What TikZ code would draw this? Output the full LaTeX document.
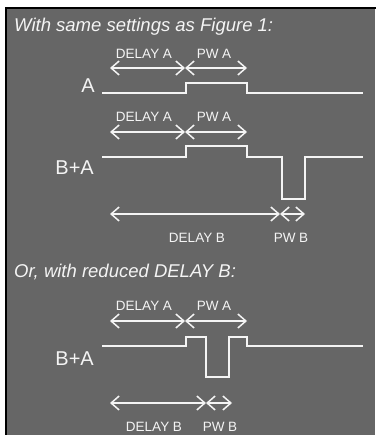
\documentclass[tikz,border=0pt]{standalone}
\usepackage{fontspec}
\setmainfont{Liberation Sans}
\usetikzlibrary{arrows.meta}
\definecolor{bg}{HTML}{666666}
\definecolor{fg}{HTML}{F4F4F4}
\begin{document}
\begin{tikzpicture}[x=1pt,y=-1pt,
  sig/.style={draw=fg, line width=2pt},
  dim/.style={draw=fg, line width=1.5pt, {Straight Barb[length=8pt,width=14pt]}-{Straight Barb[length=8pt,width=14pt]}},
  small/.style={text=fg, font=\fontsize{13.5}{13.5}\selectfont, inner sep=0pt},
  big/.style={text=fg, font=\fontsize{20}{20}\selectfont, inner sep=0pt, anchor=base east},
  ttl/.style={text=fg, font=\fontsize{18.5}{18.5}\selectfont\itshape, inner sep=0pt, anchor=base west}]
\useasboundingbox (0,0) rectangle (375,435);
\fill[white] (0,0) rectangle (375,435);
\fill[bg] (6,8) rectangle (375,435);
\draw[black, line width=2pt] (6,436) -- (6,8) -- (376,8);
% titles
\node[ttl] (t1) at (14,32) {With same settings as Figure 1:};
\node[ttl] (t2) at (14,277) {Or, with reduced DELAY B:};
% ---- row 1 : A
\node[small] (d1) at (144,54) {DELAY A};
\node[small] (p1) at (214,54) {PW A};
\coordinate (a1l) at (110,68);
\coordinate (a1m) at (185,68);
\coordinate (a1r) at (247,68);
\draw[dim] (a1l) -- (a1m);
\draw[dim] (a1m) -- (a1r);
\node[big] (lA) at (95,93) {A};
\draw[sig] (102,93) -- (186,93) -- (186,83) -- (247,83) -- (247,93) -- (363,93);
% ---- row 2 : B+A
\node[small] (d2) at (144,117) {DELAY A};
\node[small] (p2) at (214,117) {PW A};
\coordinate (a2l) at (110,132);
\coordinate (a2m) at (185,132);
\coordinate (a2r) at (247,132);
\draw[dim] (a2l) -- (a2m);
\draw[dim] (a2m) -- (a2r);
\node[big] (lBA1) at (94,175) {B+A};
\draw[sig] (102,157) -- (186,157) -- (186,146) -- (247,146) -- (247,157) -- (282,157) -- (282,199) -- (305,199) -- (305,157) -- (363,157);
\coordinate (b2l) at (110,214);
\coordinate (b2m) at (280,214);
\coordinate (b2r) at (305,214);
\draw[dim] (b2l) -- (b2m);
\draw[dim] (b2m) -- (b2r);
\node[small] (db2) at (197,238) {DELAY B};
\node[small] (pb2) at (291,238) {PW B};
% ---- row 3 : reduced delay B
\node[small] (d3) at (144,306) {DELAY A};
\node[small] (p3) at (214,306) {PW A};
\coordinate (a3l) at (110,321);
\coordinate (a3m) at (185,321);
\coordinate (a3r) at (247,321);
\draw[dim] (a3l) -- (a3m);
\draw[dim] (a3m) -- (a3r);
\node[big] (lBA2) at (94,365) {B+A};
\draw[sig] (102,346) -- (186,346) -- (186,337) -- (206,337) -- (206,377) -- (229,377) -- (229,337) -- (247,337) -- (247,346) -- (363,346);
\coordinate (b3l) at (110,403);
\coordinate (b3m) at (206,403);
\coordinate (b3r) at (232,403);
\draw[dim] (b3l) -- (b3m);
\draw[dim] (b3m) -- (b3r);
\node[small] (db3) at (154,427) {DELAY B};
\node[small] (pb3) at (220,427) {PW B};
\end{tikzpicture}
\end{document}
